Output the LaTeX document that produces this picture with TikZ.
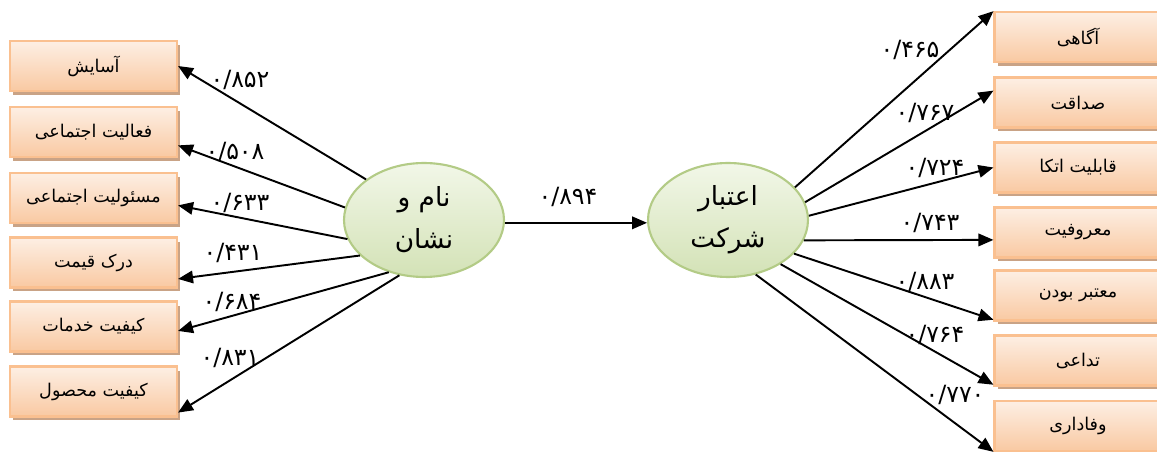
\documentclass[tikz,border=0pt]{standalone}
\usepackage{fontspec}
\usetikzlibrary{positioning,arrows.meta,shapes.geometric,shadows}
\TeXXeTstate=1
\newfontfamily\fa[Script=Arabic]{DejaVu Sans}
\definecolor{boxtop}{HTML}{FDEFE4}
\definecolor{boxbot}{HTML}{F9C9A2}
\definecolor{boxline}{HTML}{FAC090}
\definecolor{boxshade}{HTML}{C9A386}
\definecolor{elltop}{HTML}{F2F7E8}
\definecolor{ellbot}{HTML}{D3E2B6}
\definecolor{ellline}{HTML}{B3CB86}

\begin{document}
\begin{tikzpicture}[x=0.02cm,y=-0.02cm,
    item/.style={draw=boxline,line width=1.2pt,top color=boxtop,bottom color=boxbot,
        minimum width=3.34cm,minimum height=1cm,inner sep=0pt,
        font=\fa\fontsize{10}{12}\selectfont,
        drop shadow={shadow xshift=0.06cm,shadow yshift=-0.08cm,fill=boxshade,opacity=1}},
    latent/.style={ellipse,draw=ellline,line width=1.2pt,top color=elltop,bottom color=ellbot,
        minimum width=3.2cm,minimum height=2.28cm,inner sep=0pt,align=center,
        font=\fa\fontsize{15}{24}\selectfont},
    num/.style={inner sep=0pt,font=\fa\fontsize{13.5}{15}\selectfont},
    link/.style={-{Triangle[length=0.3cm,width=0.25cm]},line width=1.1pt}]
    \useasboundingbox (0,0) rectangle (1157,452);

    % indicators of the first construct
    \node[item] (b1) at (93.5,66) {\beginR آسایش\endR};
    \node[item] (b2) at (93.5,132) {\beginR فعالیت اجتماعی\endR};
    \node[item] (b3) at (93.5,198) {\beginR مسئولیت اجتماعی\endR};
    \node[item] (b4) at (93.5,262.5) {\beginR درک قیمت\endR};
    \node[item] (b5) at (93.5,326.5) {\beginR کیفیت خدمات\endR};
    \node[item] (b6) at (93.5,391.5) {\beginR کیفیت محصول\endR};

    % indicators of the second construct
    \node[item] (r1) at (1078,37) {\beginR آگاهی\endR};
    \node[item] (r2) at (1078,102.5) {\beginR صداقت\endR};
    \node[item] (r3) at (1078,167.5) {\beginR قابلیت اتکا\endR};
    \node[item] (r4) at (1078,232.5) {\beginR معروفیت\endR};
    \node[item] (r5) at (1078,295.5) {\beginR معتبر بودن\endR};
    \node[item] (r6) at (1078,360.5) {\beginR تداعی\endR};
    \node[item] (r7) at (1078,426) {\beginR وفاداری\endR};

    \node[latent] (nam) at (424,220) {\beginR نام و\endR\\\beginR نشان\endR};
    \node[latent] (etebar) at (728,220) {\beginR اعتبار\endR\\\beginR شرکت\endR};

    \draw[link] (nam.358) -- (etebar.182);
    \node[num] (w0) at (568,197) {۰/۸۹۴};

    \draw[link] (nam.145) -- (b1.east);
    \draw[link] (nam.171) -- (b2.351);
    \draw[link] (nam.194) -- (b3.355);
    \draw[link] (nam.209) -- (b4.349);
    \draw[link] (nam.236) -- (b5.357);
    \draw[link] (nam.246) -- (b6.346);

    \node[num] (w1) at (240,80) {۰/۸۵۲};
    \node[num] (w2) at (235,152) {۰/۵۰۸};
    \node[num] (w3) at (240,203) {۰/۶۳۳};
    \node[num] (w4) at (233,253) {۰/۴۳۱};
    \node[num] (w5) at (232,302) {۰/۶۸۴};
    \node[num] (w6) at (230,358) {۰/۸۳۱};

    \draw[link] (etebar.26) -- (r1.163);
    \draw[link] (etebar.13) -- (r2.172);
    \draw[link] (etebar.3) -- (r3.west);
    \draw[link] (etebar.345) -- (r4.185);
    \draw[link] (etebar.333) -- (r5.196);
    \draw[link] (etebar.320) -- (r6.196);
    \draw[link] (etebar.297) -- (r7.197);

    \node[num] (v1) at (910,50) {۰/۴۶۵};
    \node[num] (v2) at (925,113) {۰/۷۶۷};
    \node[num] (v3) at (935,168) {۰/۷۲۴};
    \node[num] (v4) at (930,223) {۰/۷۴۳};
    \node[num] (v5) at (925,282) {۰/۸۸۳};
    \node[num] (v6) at (935,335) {۰/۷۶۴};
    \node[num] (v7) at (955,395) {۰/۷۷۰};
\end{tikzpicture}
\end{document}
